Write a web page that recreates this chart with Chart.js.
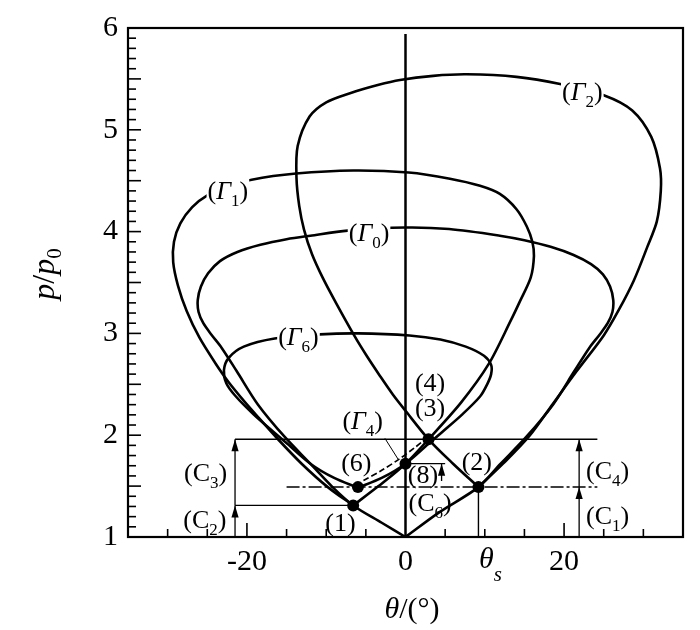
<!DOCTYPE html>
<html><head><meta charset="utf-8">
<script src="https://cdn.jsdelivr.net/npm/chart.js@4.4.1/dist/chart.umd.min.js"></script>
<style>html,body{margin:0;padding:0;background:#fff}</style>
</head><body>
<canvas id="c" width="700" height="630"></canvas>
<script>
// ---------- tick labels ----------
const xTickValues = [-20, 0, 20];
const yTickValues = [1, 2, 3, 4, 5, 6];
const thetaS = 9.2;

// ---------- polar curves (theta in deg, p/p0) ----------
const g0Theta = [0, -3.0, -6.6, -9.2, -12.0, -15.2, -18.6, -21.3, -23.2, -24.5, -25.5, -26.1, -26.2, -25.8, -24.9, -23.4, -21.2, -18.3, -15.0, -12.0, -7.3, 0, 5.5, 11.9, 15.0, 18.3, 21.2, 23.4, 24.9, 25.8, 26.2, 26.1, 25.5, 24.5, 23.2, 21.3, 18.6, 15.2, 12.0, 9.2, 4.2, 0];
const g0P     = [1, 1.14, 1.31, 1.49, 1.72, 1.98, 2.30, 2.63, 2.86, 2.99, 3.10, 3.21, 3.33, 3.46, 3.59, 3.71, 3.80, 3.87, 3.925, 3.96, 4.01, 4.04, 4.025, 3.96, 3.915, 3.85, 3.77, 3.68, 3.58, 3.46, 3.33, 3.21, 3.10, 2.99, 2.86, 2.63, 2.30, 1.98, 1.72, 1.49, 1.24, 1];

const g1Theta = [-6.6, -9.8, -13.1, -16.2, -18.5, -20.2, -22.3, -24.0, -26.0, -27.6, -28.7, -29.3, -29.2, -28.4, -26.9, -24.9, -22.5, -19.4, -13.8, -6.6, 0.4, 5.6, 9.4, 11.9, 14.0, 15.3, 16.0, 16.2, 15.8, 14.4, 13.3, 10.5, 7.0, 2.9, 0, -3.4, -6.6];
const g1P     = [1.31, 1.49, 1.72, 1.97, 2.17, 2.32, 2.52, 2.71, 2.96, 3.22, 3.47, 3.70, 3.90, 4.08, 4.24, 4.36, 4.44, 4.51, 4.57, 4.60, 4.58, 4.52, 4.45, 4.37, 4.22, 4.05, 3.90, 3.76, 3.55, 3.31, 3.13, 2.70, 2.32, 1.96, 1.72, 1.50, 1.31];

const g2Theta = [9.2, 6.0, 2.9, 0, -1.6, -3.2, -4.9, -6.4, -8.7, -10.4, -11.8, -12.8, -13.4, -13.75, -13.6, -12.1, -10.0, -7.0, -3.5, -0.7, 3.5, 7.7, 14.0, 19.5, 25.0, 28.6, 31.0, 32.1, 32.2, 31.7, 30.5, 28.8, 26.9, 25.0, 21.6, 18.6, 15.6, 12.3, 9.2];
const g2P     = [1.49, 1.72, 1.96, 2.24, 2.40, 2.58, 2.78, 2.97, 3.29, 3.54, 3.78, 4.02, 4.25, 4.53, 4.84, 5.13, 5.27, 5.36, 5.44, 5.49, 5.53, 5.545, 5.52, 5.45, 5.34, 5.19, 4.93, 4.62, 4.40, 4.10, 3.85, 3.52, 3.23, 2.98, 2.63, 2.31, 1.99, 1.72, 1.49];

const g6Theta = [-6.0, -9.0, -12.0, -14.9, -16.6, -19.1, -21.5, -22.6, -22.9, -22.3, -20.4, -16.5, -10.8, -6.0, 0.5, 4.4, 7.6, 9.9, 10.8, 10.8, 10.3, 9.4, 7.1, 4.6, 2.9, 0, -3.0, -6.0];
const g6P     = [1.485, 1.58, 1.72, 1.915, 2.03, 2.20, 2.39, 2.51, 2.64, 2.76, 2.87, 2.95, 2.99, 3.0, 2.98, 2.94, 2.87, 2.78, 2.69, 2.60, 2.50, 2.38, 2.20, 2.03, 1.915, 1.72, 1.58, 1.485];

const g4Theta = [-5.3, -3.0, -0.8, 1.2, 2.7];
const g4P     = [1.555, 1.655, 1.765, 1.88, 1.975];
const g4LeaderTheta = [-2.6, -0.9];
const g4LeaderP     = [1.97, 1.76];

// ---------- states (dots) ----------
const stateTheta = [-6.6, -6.0, 0, 2.9, 9.2];
const stateP     = [1.31, 1.49, 1.72, 1.96, 1.49];

// ---------- reference lines ----------
const axisZeroTheta = [0, 0];       const axisZeroP = [1, 5.94];
const dropTheta = [9.2, 9.2];       const dropP = [1, 1.49];
const line196Theta = [-21.5, 24.2]; const line196P = [1.96, 1.96];
const line131Theta = [-21.5, -6.6]; const line131P = [1.31, 1.31];
const line149Theta = [-15.0, 24.2]; const line149P = [1.49, 1.49];
const line172Theta = [0, 5.0];      const line172P = [1.72, 1.72];

// ---------- pressure-jump arrows (C) ----------
const arrowTheta = [-21.5, -21.5, 21.9, 21.9, 4.55];
const arrowFrom  = [1, 1.31, 1, 1.49, 1.55];
const arrowTo    = [1.31, 1.96, 1.49, 1.96, 1.72];

// ---------- annotation texts ----------
const annTexts = ['Γ','Γ','Γ','Γ','Γ','4','3','6','1','2','8','C','C','C','C','C'];
const annSubs  = ['2','1','0','6','4','','','','','','','6','4','1','3','2'];
const annTheta = [22.3, -22.4, -4.6, -13.5, -5.4, 3.1, 3.1, -6.2, -8.2, 9.0, 2.2, 3.1, 25.5, 25.5, -25.2, -25.3];
const annP     = [5.37, 4.40, 3.99, 2.96, 2.14, 2.51, 2.27, 1.73, 1.14, 1.74, 1.61, 1.33, 1.65, 1.21, 1.625, 1.17];
const annBg    = [true, true, true, true, false, false, false, false, false, false, false, false, false, false, false, false];

const SERIF = '"Liberation Serif", "Times New Roman", serif';

function pts(th, p) { return th.map((t, i) => ({x: t, y: p[i]})); }
function ln(th, p, w, extra) {
  return Object.assign({
    data: pts(th, p), showLine: true, pointRadius: 0, pointHoverRadius: 0,
    borderColor: '#000', backgroundColor: '#000', borderWidth: w, tension: 0, fill: false
  }, extra || {});
}

const datasets = [
  {data: pts(stateTheta, stateP), showLine: false, pointRadius: 6, pointBackgroundColor: '#000', pointBorderWidth: 0, borderColor: '#000'},
  ln(g0Theta, g0P, 2.6, {tension: 0.3}),
  ln(g1Theta, g1P, 2.6, {tension: 0.3}),
  ln(g2Theta, g2P, 2.6, {tension: 0.3}),
  ln(g6Theta, g6P, 2.6, {tension: 0.3}),
  ln(g4Theta, g4P, 1.7, {tension: 0.3, borderDash: [6, 3]}),
  ln(g4LeaderTheta, g4LeaderP, 1),
  ln(axisZeroTheta, axisZeroP, 2.5),
  ln(dropTheta, dropP, 1.4),
  ln(line196Theta, line196P, 1.3),
  ln(line131Theta, line131P, 1.3),
  ln(line149Theta, line149P, 1.5, {borderDash: [13, 3, 3, 3]}),
  ln(line172Theta, line172P, 1.3),
];
arrowTheta.forEach((t, i) => datasets.push(ln([t, t], [arrowFrom[i], arrowTo[i]], 1.3)));

function drawRich(ctx, parts, cx, cy, rot, bg) {
  ctx.save();
  ctx.translate(cx, cy);
  if (rot) ctx.rotate(rot);
  let w = 0;
  parts.forEach(p => { ctx.font = p.font; p.w = ctx.measureText(p.t).width; w += p.w; });
  if (bg) {
    ctx.fillStyle = '#fff';
    ctx.fillRect(-w / 2 - 1, -bg[0], w + 2, bg[0] + bg[1]);
  }
  ctx.fillStyle = '#000';
  ctx.textBaseline = 'alphabetic';
  ctx.textAlign = 'left';
  let x = -w / 2;
  parts.forEach(p => { ctx.font = p.font; ctx.fillText(p.t, x, p.dy || 0); x += p.w; });
  ctx.restore();
}

const overlay = {
  id: 'overlay',
  afterDatasetsDraw(chart) {
    const {ctx, chartArea: a, scales: {x, y}} = chart;
    const X = v => x.getPixelForValue(v), Y = v => y.getPixelForValue(v);
    ctx.save();
    // arrow heads
    ctx.fillStyle = '#000';
    arrowTheta.forEach((t, i) => {
      const px = X(t), py = Y(arrowTo[i]);
      ctx.beginPath();
      ctx.moveTo(px, py);
      ctx.lineTo(px - 3.6, py + 12);
      ctx.lineTo(px + 3.6, py + 12);
      ctx.closePath();
      ctx.fill();
    });
    // annotations
    const fs = 26, sfs = 17;
    annTexts.forEach((t, i) => {
      const parts = [{t: '(', font: fs + 'px ' + SERIF}];
      parts.push({t: t, font: (t === 'Γ' ? 'italic ' : '') + fs + 'px ' + SERIF});
      if (annSubs[i]) parts.push({t: annSubs[i], font: sfs + 'px ' + SERIF, dy: 7});
      parts.push({t: ')', font: fs + 'px ' + SERIF});
      drawRich(ctx, parts, X(annTheta[i]), Y(annP[i]) + 8, 0, annBg[i] ? [20, 10] : null);
    });
    // frame
    ctx.strokeStyle = '#000';
    ctx.lineWidth = 2.2;
    ctx.strokeRect(a.left, a.top, a.right - a.left, a.bottom - a.top);
    // inward tick marks
    ctx.lineWidth = 1.6;
    for (let v = -30; v <= 30; v += 5) {
      if (v === 0) continue;
      const len = Math.abs(v) === 20 ? 14 : 8;
      ctx.beginPath(); ctx.moveTo(X(v), a.bottom); ctx.lineTo(X(v), a.bottom - len); ctx.stroke();
    }
    for (let i = 11; i < 60; i++) {
      const len = i % 5 === 0 ? 13 : 8;
      const py = Y(i / 10);
      ctx.beginPath(); ctx.moveTo(a.left, py); ctx.lineTo(a.left + len, py); ctx.stroke();
    }
    // theta_s tick label
    drawRich(ctx, [
      {t: 'θ', font: 'italic 30px ' + SERIF},
      {t: 's', font: 'italic 21px ' + SERIF, dy: 13}
    ], X(thetaS) + 12, a.bottom + 31, 0, null);
    // axis titles
    drawRich(ctx, [
      {t: 'θ', font: 'italic 30px ' + SERIF},
      {t: '/(°)', font: '30px ' + SERIF}
    ], 412, 618, 0, null);
    drawRich(ctx, [
      {t: 'p', font: 'italic 32px ' + SERIF},
      {t: '/', font: '32px ' + SERIF},
      {t: 'p', font: 'italic 32px ' + SERIF},
      {t: '0', font: '21px ' + SERIF, dy: 7}
    ], 54, 274, -Math.PI / 2, null);
    ctx.restore();
  }
};

new Chart(document.getElementById('c'), {
  type: 'scatter',
  data: {datasets},
  options: {
    responsive: false,
    animation: false,
    events: [],
    layout: {padding: {top: 22, right: 17, left: 0, bottom: 0}},
    plugins: {legend: {display: false}, tooltip: {enabled: false}},
    scales: {
      x: {
        type: 'linear', min: -35, max: 35,
        grid: {display: false, drawTicks: false},
        border: {display: false},
        afterBuildTicks: s => { s.ticks = xTickValues.map(v => ({value: v})); },
        afterFit: s => { s.height = 93; },
        ticks: {color: '#000', padding: 7, maxRotation: 0, autoSkip: false,
                font: {family: SERIF, size: 30}, callback: v => String(v)}
      },
      y: {
        type: 'linear', min: 1, max: 6,
        grid: {display: false, drawTicks: false},
        border: {display: false},
        afterBuildTicks: s => { s.ticks = yTickValues.map(v => ({value: v})); },
        afterFit: s => { s.width = 128; },
        ticks: {color: '#000', padding: 10, autoSkip: false,
                font: {family: SERIF, size: 30}, callback: v => String(v)}
      }
    }
  },
  plugins: [overlay]
});
</script>
</body></html>
